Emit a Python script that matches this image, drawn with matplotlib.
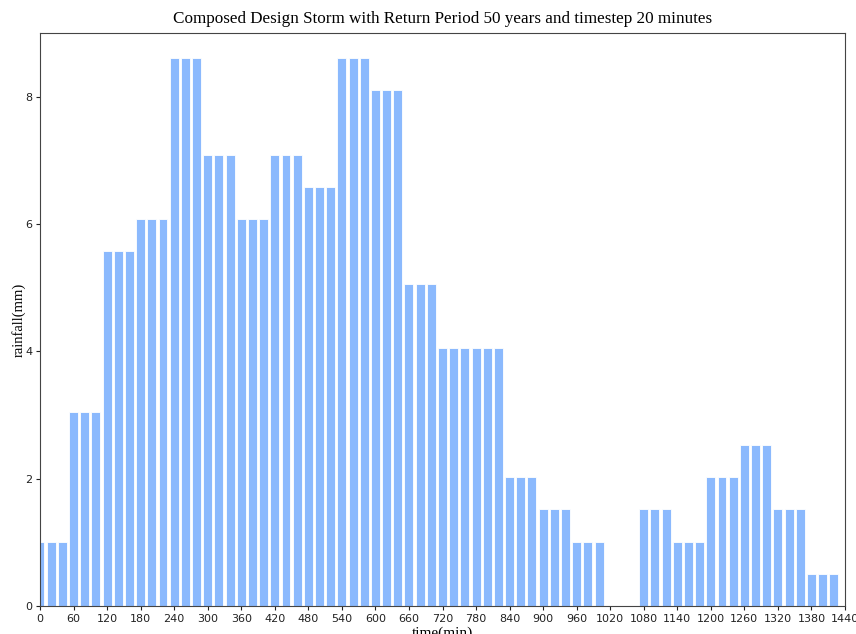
import matplotlib.pyplot as plt

# rainfall per 20-minute step (mm)
time_min = list(range(0, 1440, 20))
rainfall = ([1.01] * 3 + [3.04] * 3 + [5.57] * 3 + [6.08] * 3 + [8.6] * 3 +
            [7.09] * 3 + [6.08] * 3 + [7.09] * 3 + [6.58] * 3 + [8.6] * 3 +
            [8.1] * 3 + [5.06] * 3 + [4.05] * 6 + [2.03] * 3 + [1.52] * 3 +
            [1.01] * 3 + [0.0] * 3 + [1.52] * 3 + [1.01] * 3 + [2.03] * 3 +
            [2.53] * 3 + [1.52] * 3 + [0.51] * 3)
xticks = list(range(0, 1441, 60))
yticks = [0, 2, 4, 6, 8]

fig = plt.figure(figsize=(8.56, 6.34), dpi=100)
ax = fig.add_axes([40 / 856, 1 - 606 / 634, 805 / 856, 573 / 634])

ax.bar(time_min, rainfall, width=16, color='#8bb9fd', edgecolor='white', linewidth=0.6)

ax.set_xlim(0, 1440)
ax.set_ylim(0, 9)
ax.set_xticks(xticks)
ax.set_yticks(yticks)
ax.tick_params(labelsize=8, length=3, pad=2.5, colors='#222222')
for s in ax.spines.values():
    s.set_color('#444444')

serif = 'Liberation Serif'
ax.set_title('Composed Design Storm with Return Period 50 years and timestep 20 minutes',
             family=serif, fontsize=12.3, pad=7)
ax.set_xlabel('time(min)', family=serif, fontsize=11, labelpad=2)
ax.set_ylabel('rainfall(mm)', family=serif, fontsize=10.5, labelpad=0)

fig.savefig('out.png', dpi=100)
